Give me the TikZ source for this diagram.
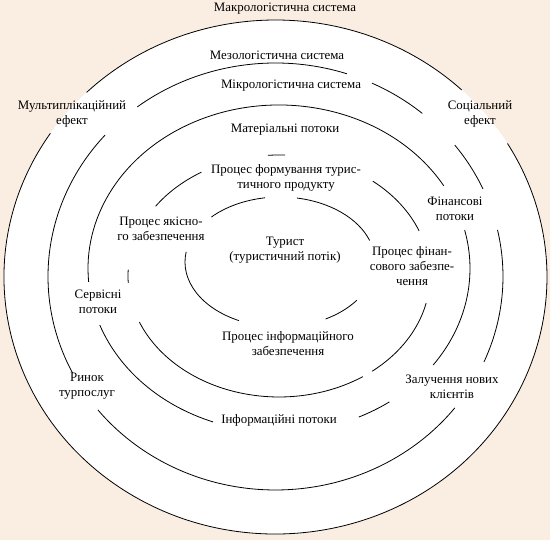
\documentclass[tikz,border=0pt]{standalone}
\usepackage{fontspec}
\setmainfont{Liberation Serif}
\usetikzlibrary{positioning}
\definecolor{paper}{RGB}{250,237,225}

\begin{document}
\begin{tikzpicture}[x=1pt, y=1pt,
    ring/.style={draw, line width=0.8pt},
    label/.style={font=\fontsize{12.9}{15}\selectfont, align=center, inner sep=1pt}
]
    % Paper and the white macro field
    \fill[paper] (0,0) rectangle (550,540);
    \useasboundingbox (0,0) rectangle (550,540);
    \fill[white] (275.5pt,263pt) ellipse [x radius=271.5pt, y radius=257pt];

    % Ring centres
    \coordinate (c1) at (275.5,263);
    \coordinate (c2) at (275.5,263.5);
    \coordinate (c3) at (279,271.5);
    \coordinate (c4) at (279,264);
    \coordinate (c5) at (280,278);

    % Rings, drawn piece by piece (gaps are left for the labels)
    \foreach \a/\b in {46.7/134.1, 146/391.3}
        \draw[ring] (c1) ++(\a:271.5pt and 257pt) arc[start angle=\a, end angle=\b, x radius=271.5pt, y radius=257pt];
    \foreach \a/\b in {-23.6/12.6, 24.2/38, 49.8/64.9, 71.7/127.4, 138.5/206.9, 218.7/322}
        \draw[ring] (c2) ++(\a:227.5pt and 213.5pt) arc[start angle=\a, end angle=\b, x radius=227.5pt, y radius=213.5pt];
    \foreach \a/\b in {30.4/184.7, 200.2/249.8, 294.7/305.3, 323.8/373.6}
        \draw[ring] (c3) ++(\a:191pt and 163.5pt) arc[start angle=\a, end angle=\b, x radius=191pt, y radius=163.5pt];
    \foreach \a/\b in {21.9/51.6, 87.7/94.2, 120.9/144.8, 177/183.3, 202.4/303.7, 308.1/347}
        \draw[ring] (c4) ++(\a:151pt and 121pt) arc[start angle=\a, end angle=\b, x radius=151pt, y radius=121pt];
    \foreach \a/\b in {19.3/79.7, 99.1/136.2, 171.1/244.4, 298.7/323.9}
        \draw[ring] (c5) ++(\a:95pt and 65pt) arc[start angle=\a, end angle=\b, x radius=95pt, y radius=65pt];

    % System levels
    \node[label] (makro) at (285,531) {Макрологістична система};
    \node[label] (mezo) at (277,485) {Мезологістична система};
    \node[label] (mikro) at (291,454) {Мікрологістична система};

    % Flows and processes
    \node[label] (mater) at (285,410) {Матеріальні потоки};
    \node[label] (formuv) at (286,362) {Процес формування турис-\\тичного продукту};
    \node[label] (yakist) at (161,311) {Процес якісно-\\го забезпечення};
    \node[label] (turyst) at (285,290) {Турист\\(туристичний потік)};
    \node[label] (finpot) at (455,331) {Фінансові\\потоки};
    \node[label] (finzab) at (412,274) {Процес фінан-\\сового забезпе-\\чення};
    \node[label] (servis) at (98,238) {Сервісні\\потоки};
    \node[label] (infzab) at (288,196) {Процес інформаційного\\забезпечення};
    \node[label] (infpot) at (279,120) {Інформаційні потоки};

    % Effects on the outer ring
    \node[label] (multi) at (72,426) {Мультиплікаційний\\ефект};
    \node[label] (social) at (480,426) {Соціальний\\ефект};
    \node[label] (rynok) at (87,154) {Ринок\\турпослуг};
    \node[label] (zaluch) at (452,153) {Залучення нових\\клієнтів};
\end{tikzpicture}
\end{document}
